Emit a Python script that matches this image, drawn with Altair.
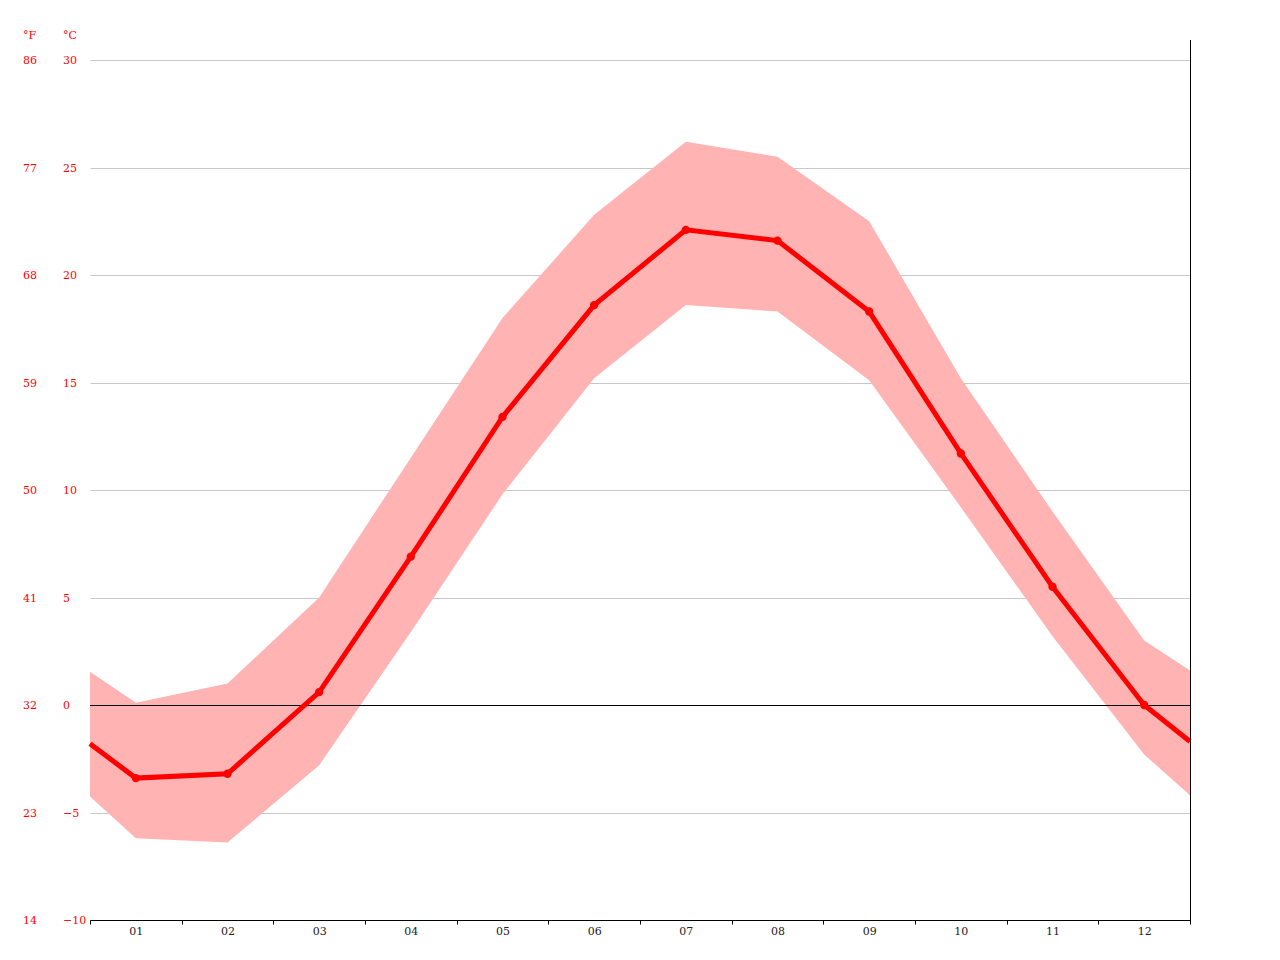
import altair as alt
import pandas as pd

# x positions: 0.5 and 12.5 are the chart edges, 1..12 are months
xpos = [0.5, 1, 2, 3, 4, 5, 6, 7, 8, 9, 10, 11, 12, 12.5]
mean_c = [-1.8, -3.4, -3.2, 0.6, 6.9, 13.4, 18.6, 22.1, 21.6, 18.3, 11.7, 5.5, 0.0, -1.7]
max_c = [1.55, 0.1, 1.0, 5.0, 11.5, 18.0, 22.8, 26.2, 25.5, 22.5, 15.2, 9.0, 3.0, 1.6]
min_c = [-4.25, -6.2, -6.4, -2.8, 3.4, 9.8, 15.2, 18.6, 18.3, 15.1, 9.2, 3.2, -2.3, -4.2]
is_month = [False] + [True] * 12 + [False]

celsius_ticks = [-10, -5, 0, 5, 10, 15, 20, 25, 30]
fahrenheit_ticks = [14, 23, 32, 41, 50, 59, 68, 77, 86]
month_bounds = [0.5, 1.5, 2.5, 3.5, 4.5, 5.5, 6.5, 7.5, 8.5, 9.5, 10.5, 11.5, 12.5]

FONT = "DejaVu Serif"
W, H = 1100, 860

df = pd.DataFrame({"x": xpos, "mean": mean_c, "max": max_c, "min": min_c, "m": is_month})
ticks = pd.DataFrame({"c": celsius_ticks, "f": fahrenheit_ticks})

xscale = alt.Scale(domain=[0.5, 12.5], nice=False, zero=False)
yscale = alt.Scale(domain=[-10, 30], nice=False, zero=False)

xaxis = alt.Axis(
    values=month_bounds,
    labelExpr="datum.value < 12 ? ((datum.value + 0.5) < 10 ? '0' : '') + (datum.value + 0.5) : ''",
    labelOffset=45.83,
    labelFlush=False,
    labelOverlap=False,
    tickSize=4,
    tickColor="black",
    domainColor="black",
    labelColor="#222222",
    labelFont=FONT,
    labelFontSize=11,
    labelPadding=1,
    grid=False,
    title=None,
)
yaxis = alt.Axis(
    values=celsius_ticks,
    grid=True,
    gridColor="#c8c8c8",
    gridWidth=1,
    labels=False,
    ticks=False,
    domain=False,
    title=None,
)

base = alt.Chart(df)

area = base.mark_area(color="#ffb3b3", opacity=1).encode(
    x=alt.X("x:Q", scale=xscale, axis=xaxis),
    y=alt.Y("max:Q", scale=yscale, axis=yaxis),
    y2="min:Q",
)

zero = alt.Chart(pd.DataFrame({"z": [0]})).mark_rule(color="black", strokeWidth=1, yOffset=0.5).encode(
    y=alt.Y("z:Q", scale=yscale)
)

line = base.mark_line(color="#ff0000", strokeWidth=5).encode(
    x=alt.X("x:Q", scale=xscale),
    y=alt.Y("mean:Q", scale=yscale),
)

points = base.transform_filter("datum.m").mark_circle(color="#ff0000", size=70, opacity=1).encode(
    x=alt.X("x:Q", scale=xscale),
    y=alt.Y("mean:Q", scale=yscale),
)

right_rule = alt.Chart(pd.DataFrame({"a": [0]})).mark_rule(color="black", strokeWidth=1).encode(
    x=alt.value(W + 0.5), y=alt.value(-20), y2=alt.value(H + 4)
)

c_labels = alt.Chart(ticks).mark_text(
    align="left", baseline="middle", color="#ff0000", font=FONT, fontSize=11, dy=1
).encode(x=alt.value(-27), y=alt.Y("c:Q", scale=yscale), text=alt.Text("c:Q", format="d"))

f_labels = alt.Chart(ticks).mark_text(
    align="left", baseline="middle", color="#ff0000", font=FONT, fontSize=11, dy=1
).encode(x=alt.value(-67), y=alt.Y("c:Q", scale=yscale), text=alt.Text("f:Q", format="d"))

headers = alt.Chart(pd.DataFrame({"t": ["°F", "°C"], "px": [-67, -27]})).mark_text(
    align="left", baseline="middle", color="#ff0000", font=FONT, fontSize=11
).encode(x=alt.X("px:Q", scale=None), y=alt.value(-24), text="t:N")

chart = alt.layer(area, zero, line, points, right_rule, c_labels, f_labels, headers).properties(
    width=W,
    height=H,
    autosize=alt.AutoSizeParams(type="none"),
    padding={"left": 82, "top": 52, "right": 82, "bottom": 32},
).configure_view(stroke=None)

chart.save("out.html", embed_options={"renderer": "svg", "actions": False})
